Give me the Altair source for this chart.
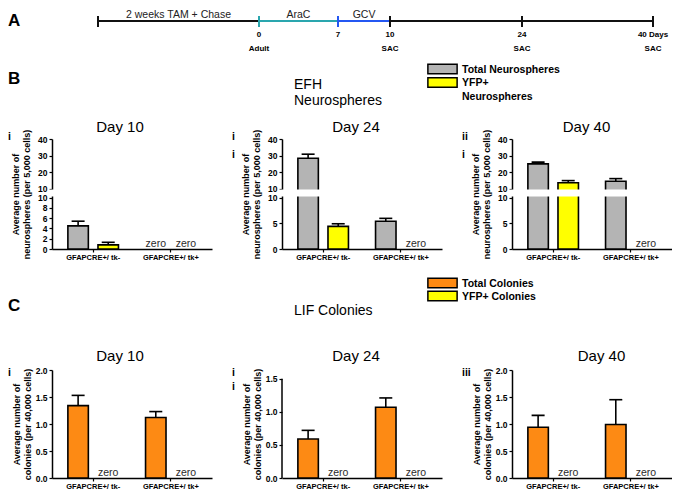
import altair as alt
import pandas as pd

FONT = "Liberation Sans"

# ---------------- A : timeline ----------------
tl_domain_days = [-14, 0, 7, 10, 24, 40]
tl_range_px = [46, 207, 286, 338, 470, 601]
tl_seg_start = [-14, 0, 7, 10]
tl_seg_end = [0, 7, 10, 40]
tl_seg_colors = ["#111111", "#2aa6ae", "#2457f2", "#111111"]
tl_tick_days = [-14, 0, 7, 10, 24, 40]
tl_tick_colors = ["#111111", "#2aa6ae", "#2457f2", "#111111", "#111111", "#111111"]
tl_num_days = [0, 7, 10, 24, 40]
tl_num_labels = ["0", "7", "10", "24", "40 Days"]
tl_sub_days = [0, 10, 24, 40]
tl_sub_labels = ["Adult", "SAC", "SAC", "SAC"]
tl_phase_days = [-7, 3.5, 8.5]
tl_phase_labels = ["2 weeks TAM +  Chase", "AraC", "GCV"]

# ---------------- shared ----------------
groups = ["GFAPCRE+/ tk-", "GFAPCRE+/ tk+"]
series_keys = ["Total", "YFP+"]
panel_titles = ["Day 10", "Day 24", "Day 40"]

# ---------------- B : EFH neurospheres ----------------
neuro_colors = ["#b4b4b4", "#ffff00"]
neuro_legend_labels = ["Total Neurospheres", "YFP+\nNeurospheres"]
neuro_header = "EFH\nNeurospheres"
neuro_ytitle = ["Average number of", "neurospheres (per 5,000 cells)"]
neuro_tags = ["i", "i\ni", "ii\ni"]
# order: tk- total, tk- YFP+, tk+ total, tk+ YFP+
neuro_d10_mean = [4.5, 0.8, 0.0, 0.0]
neuro_d10_upper = [5.4, 1.3, 0.0, 0.0]
neuro_d24_mean = [28.3, 4.4, 5.4, 0.0]
neuro_d24_upper = [30.8, 4.9, 5.95, 0.0]
neuro_d40_mean = [24.9, 13.5, 14.4, 0.0]
neuro_d40_upper = [26.0, 14.8, 16.0, 0.0]
neuro_lower_ticks_d10 = [0, 2, 4, 6, 8, 10]
neuro_lower_ticks = [0, 5, 10]
neuro_upper_ticks = [10.01, 20, 30, 40]
neuro_break_domain = [0, 10, 10.01, 40]
gap_low, gap_high = 10.001, 10.009

# ---------------- C : LIF colonies ----------------
lif_colors = ["#fd8a14", "#ffff00"]
lif_legend_labels = ["Total Colonies", "YFP+ Colonies"]
lif_header = "LIF Colonies"
lif_ytitle = ["Average number of", "colonies (per 40,000 cells)"]
lif_tags = ["i", "i\ni", "iii"]
lif_d10_mean = [1.34, 0.0, 1.12, 0.0]
lif_d10_upper = [1.53, 0.0, 1.23, 0.0]
lif_d24_mean = [0.59, 0.0, 1.07, 0.0]
lif_d24_upper = [0.72, 0.0, 1.21, 0.0]
lif_d40_mean = [0.94, 0.0, 0.99, 0.0]
lif_d40_upper = [1.16, 0.0, 1.45, 0.0]
lif_ticks_2 = [0, 0.5, 1.0, 1.5, 2.0]
lif_ticks_15 = [0, 0.5, 1.0, 1.5]
lif_axis_max_15 = 1.5

W = 160
B_H = 110
C_H = 108


def tl_x(field):
    return alt.X(field, type="quantitative",
                 scale=alt.Scale(domain=tl_domain_days, range=tl_range_px), axis=None)


def text_chart(t, **kw):
    return alt.Chart(pd.DataFrame({"t": [t]})).mark_text(font=FONT, color="black", **kw)


# ---------- row A ----------
seg_df = pd.DataFrame({"start": tl_seg_start, "end": tl_seg_end, "color": tl_seg_colors})
tick_df = pd.DataFrame({"day": tl_tick_days, "color": tl_tick_colors})
num_df = pd.DataFrame({"day": tl_num_days, "label": tl_num_labels})
sub_df = pd.DataFrame({"day": tl_sub_days, "label": tl_sub_labels})
phase_df = pd.DataFrame({"day": tl_phase_days, "label": tl_phase_labels})

segs = alt.Chart(seg_df).mark_rule(strokeWidth=2.2).encode(
    x=tl_x("start"), x2="end:Q", y=alt.value(13), color=alt.Color("color:N", scale=None))
tticks = alt.Chart(tick_df).mark_rule(strokeWidth=2).encode(
    x=tl_x("day"), y=alt.value(8), y2=alt.value(19), color=alt.Color("color:N", scale=None))
nums = alt.Chart(num_df).mark_text(font=FONT, fontSize=8, fontWeight="bold", baseline="middle", color="black").encode(
    x=tl_x("day"), y=alt.value(27), text="label:N")
subs = alt.Chart(sub_df).mark_text(font=FONT, fontSize=8, fontWeight="bold", baseline="middle", color="black").encode(
    x=tl_x("day"), y=alt.value(41), text="label:N")
phases = alt.Chart(phase_df).mark_text(font=FONT, fontSize=10.5, baseline="alphabetic", color="#222222").encode(
    x=tl_x("day"), y=alt.value(9.5), text="label:N")
letterA = text_chart("A", fontSize=17, fontWeight="bold", align="left", baseline="middle").encode(
    text="t:N", x=alt.value(-44), y=alt.value(12.5))
rowA = alt.layer(segs, tticks, nums, subs, phases, letterA).properties(width=601, height=46)


# ---------- header rows ----------
def header(letter, letter_y, title, title_y, leg_labels, leg_colors, leg_range, height):
    leg_df = pd.DataFrame({"label": leg_labels, "color": leg_colors})
    leg_y = alt.Y("label:N", sort=leg_labels,
                  scale=alt.Scale(type="point", domain=leg_labels, range=leg_range, padding=0), axis=None)
    lt = text_chart(letter, fontSize=17, fontWeight="bold", align="left", baseline="middle").encode(
        text="t:N", x=alt.value(-44), y=alt.value(letter_y))
    tt = text_chart(title, fontSize=14, align="left", baseline="alphabetic", lineBreak="\n", lineHeight=16).encode(
        text="t:N", x=alt.value(242), y=alt.value(title_y))
    sw = alt.Chart(leg_df).mark_point(shape="M-1.5,-0.5H1.5V0.5H-1.5Z", size=380, filled=True, opacity=1,
                                      stroke="black", strokeWidth=1.5).encode(
        x=alt.value(390.5), y=leg_y, fill=alt.Fill("color:N", scale=None))
    lab = alt.Chart(leg_df).mark_text(font=FONT, fontSize=10.5, fontWeight="bold", align="left", baseline="alphabetic",
                                      dy=3.8, lineBreak="\n", lineHeight=14, color="black").encode(
        x=alt.value(410), y=leg_y, text="label:N")
    return alt.layer(lt, tt, sw, lab).properties(width=520, height=height)


headB = header("B", 24.5, neuro_header, 35, neuro_legend_labels, neuro_colors, [15, 28.5], 66)
headC = header("C", 45, lif_header, 53.5, lif_legend_labels, lif_colors, [22, 35], 88)


# ---------- panels ----------
def make_df(mean, upper, colors):
    return pd.DataFrame({
        "group": [groups[0], groups[0], groups[1], groups[1]],
        "series": [series_keys[0], series_keys[1], series_keys[0], series_keys[1]],
        "color": [colors[0], colors[1], colors[0], colors[1]],
        "mean": mean, "upper": upper})


def panel(df, title, title_x, title_y, height, ydomain, yrange, yvalues, label_expr, ytitle,
          title_pad, tag, tag_x, tag_y, tag_lh, broken=False, axis_top=None):
    xdef = alt.X("group:N", sort=groups,
                 scale=alt.Scale(domain=groups, paddingInner=0, paddingOuter=0.03),
                 axis=alt.Axis(title=None, labelAngle=0, labelFontSize=7.5, labelFontWeight="bold",
                               tickSize=3, labelPadding=1, domainWidth=1.5, tickWidth=1.2))
    xo = alt.XOffset("series:N", sort=series_keys,
                     scale=alt.Scale(domain=series_keys, paddingInner=0.32, paddingOuter=0.45))
    yaxis = alt.Axis(values=yvalues, title=ytitle, labelExpr=label_expr, labelOverlap=False,
                     tickSize=3, labelPadding=2, titlePadding=title_pad, labelFontSize=8.5,
                     labelFontWeight="bold", titleFontSize=9, titleFontWeight="bold",
                     titleLineHeight=11, domainWidth=1.5, tickWidth=1.2,
                     domain=(axis_top is None))
    yscale = alt.Scale(domain=ydomain, range=yrange, nice=False)

    def ydef(f):
        return alt.Y(f, type="quantitative", scale=yscale, axis=yaxis)

    nz = alt.Chart(df).transform_filter("datum.mean > 0")
    bars = nz.mark_bar(stroke="black", strokeWidth=1.6).encode(
        x=xdef, xOffset=xo, y=ydef("mean"), fill=alt.Fill("color:N", scale=None))
    stems = nz.mark_rule(color="black", strokeWidth=1.6).encode(
        x=xdef, xOffset=xo, y=ydef("mean"), y2="upper:Q")
    caps = nz.mark_tick(color="black", size=13, thickness=1.6, opacity=1).encode(
        x=xdef, xOffset=xo, y=ydef("upper"))
    zeros = alt.Chart(df).transform_filter("datum.mean == 0").mark_text(
        text="zero", font=FONT, fontSize=10.5, color="#2a2a2a", baseline="bottom", dy=-0.5).encode(
        x=xdef, xOffset=xo, y=ydef("mean"))
    layers = [bars, stems, caps, zeros]
    if axis_top is not None:
        ax_df = pd.DataFrame({"mean": [0.0], "upper": [axis_top]})
        layers.append(alt.Chart(ax_df).mark_rule(color="black", strokeWidth=1.5).encode(
            x=alt.value(0), y=ydef("mean"), y2="upper:Q"))
    if broken:
        gap_df = pd.DataFrame({"mean": [gap_low], "upper": [gap_high]})
        layers.append(alt.Chart(gap_df).mark_rect(color="white").encode(
            x=alt.value(-3), x2=alt.value(W), y=ydef("mean"), y2="upper:Q"))
    layers.append(text_chart(tag, fontSize=10.5, fontWeight="bold", align="left", baseline="top",
                             lineBreak="\n", lineHeight=tag_lh).encode(
        text="t:N", x=alt.value(tag_x), y=alt.value(tag_y)))
    layers.append(text_chart(title, fontSize=15, align="center", baseline="alphabetic").encode(
        text="t:N", x=alt.value(title_x), y=alt.value(title_y)))
    return alt.layer(*layers).properties(width=W, height=height)


b_range = [B_H, 58.5, 49.5, 0]
b_expr = "format(round(datum.value), 'd')"
pB10 = panel(make_df(neuro_d10_mean, neuro_d10_upper, neuro_colors), panel_titles[0], 68, -7, B_H,
             neuro_break_domain, b_range, neuro_lower_ticks_d10 + neuro_upper_ticks, b_expr, neuro_ytitle,
             6, neuro_tags[0], -44, -7.5, 18, broken=True)
pB24 = panel(make_df(neuro_d24_mean, neuro_d24_upper, neuro_colors), panel_titles[1], 74, -7, B_H,
             neuro_break_domain, b_range, neuro_lower_ticks + neuro_upper_ticks, b_expr, neuro_ytitle,
             6, neuro_tags[1], -50, -7.5, 18, broken=True)
pB40 = panel(make_df(neuro_d40_mean, neuro_d40_upper, neuro_colors), panel_titles[2], 74.5, -7, B_H,
             neuro_break_domain, b_range, neuro_lower_ticks + neuro_upper_ticks, b_expr, neuro_ytitle,
             6, neuro_tags[2], -50, -7.5, 18, broken=True)
rowB = alt.hconcat(pB10, pB24, pB40, spacing=20)

c_expr = "format(datum.value, '.1f')"
c24_top = 1.632
pC10 = panel(make_df(lif_d10_mean, lif_d10_upper, lif_colors), panel_titles[0], 68, -9, C_H,
             [0, 2], [C_H, 0], lif_ticks_2, c_expr, lif_ytitle, 3, lif_tags[0], -44, -2.5, 14)
pC24 = panel(make_df(lif_d24_mean, lif_d24_upper, lif_colors), panel_titles[1], 74, -9, C_H,
             [0, c24_top], [C_H, 0], lif_ticks_15, c_expr, lif_ytitle, 3, lif_tags[1], -50, -2.5, 14,
             axis_top=lif_axis_max_15)
pC40 = panel(make_df(lif_d40_mean, lif_d40_upper, lif_colors), panel_titles[2], 89.5, -9, C_H,
             [0, 2], [C_H, 0], lif_ticks_2, c_expr, lif_ytitle, 3, lif_tags[2], -50, -2.5, 14)
rowC = alt.hconcat(pC10, pC24, pC40, spacing=20)

chart = alt.vconcat(rowA, headB, rowB, headC, rowC, spacing=0, padding=0).configure(
    font=FONT
).configure_view(strokeWidth=0).configure_axis(
    labelFont=FONT, titleFont=FONT, labelColor="black", titleColor="black",
    domainColor="black", tickColor="black", grid=False
)

chart.save("out.html", embed_options={"renderer": "svg", "actions": False})
